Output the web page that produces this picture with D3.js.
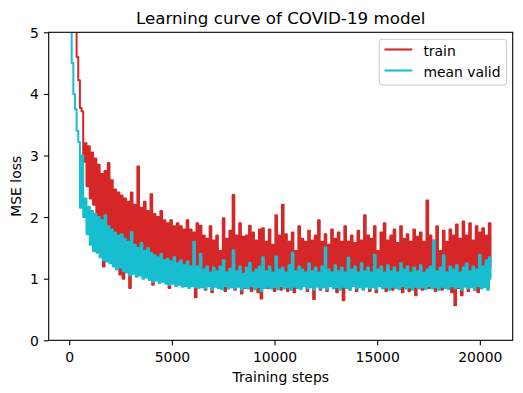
<!DOCTYPE html>
<html>
<head>
<meta charset="utf-8">
<script src="https://cdn.jsdelivr.net/npm/d3@7"></script>
<style>
  body { margin: 0; background: #fff; }
  text { font-family: "DejaVu Sans", sans-serif; fill: #000; }
</style>
</head>
<body>
<div id="container"></div>
<script>
// training steps the losses were logged at
const steps = [
  0, 80, 160, 240, 320, 400, 480, 560, 640, 720,
  800, 880, 960, 1040, 1120, 1200, 1280, 1360, 1440, 1520,
  1600, 1680, 1760, 1840, 1920, 2000, 2080, 2160, 2240, 2320,
  2400, 2480, 2560, 2640, 2720, 2800, 2880, 2960, 3040, 3120,
  3200, 3280, 3360, 3440, 3520, 3600, 3680, 3760, 3840, 3920,
  4000, 4080, 4160, 4240, 4320, 4400, 4480, 4560, 4640, 4720,
  4800, 4880, 4960, 5040, 5120, 5200, 5280, 5360, 5440, 5520,
  5600, 5680, 5760, 5840, 5920, 6000, 6080, 6160, 6240, 6320,
  6400, 6480, 6560, 6640, 6720, 6800, 6880, 6960, 7040, 7120,
  7200, 7280, 7360, 7440, 7520, 7600, 7680, 7760, 7840, 7920,
  8000, 8080, 8160, 8240, 8320, 8400, 8480, 8560, 8640, 8720,
  8800, 8880, 8960, 9040, 9120, 9200, 9280, 9360, 9440, 9520,
  9600, 9680, 9760, 9840, 9920, 10000, 10080, 10160, 10240, 10320,
  10400, 10480, 10560, 10640, 10720, 10800, 10880, 10960, 11040, 11120,
  11200, 11280, 11360, 11440, 11520, 11600, 11680, 11760, 11840, 11920,
  12000, 12080, 12160, 12240, 12320, 12400, 12480, 12560, 12640, 12720,
  12800, 12880, 12960, 13040, 13120, 13200, 13280, 13360, 13440, 13520,
  13600, 13680, 13760, 13840, 13920, 14000, 14080, 14160, 14240, 14320,
  14400, 14480, 14560, 14640, 14720, 14800, 14880, 14960, 15040, 15120,
  15200, 15280, 15360, 15440, 15520, 15600, 15680, 15760, 15840, 15920,
  16000, 16080, 16160, 16240, 16320, 16400, 16480, 16560, 16640, 16720,
  16800, 16880, 16960, 17040, 17120, 17200, 17280, 17360, 17440, 17520,
  17600, 17680, 17760, 17840, 17920, 18000, 18080, 18160, 18240, 18320,
  18400, 18480, 18560, 18640, 18720, 18800, 18880, 18960, 19040, 19120,
  19200, 19280, 19360, 19440, 19520, 19600, 19680, 19760, 19840, 19920,
  20000, 20080, 20160, 20240, 20320, 20400, 20480, 20560
]

const trainLoss = [
  7.2, 6.4, 5.9, 5.5, 5.15, 4.6, 4.22, 3.77, 3.72, 2.9,
  3.2, 2.5, 3.15, 2.3, 3.05, 2.2, 2.95, 1.9, 2.85, 1.85,
  2.7, 1.2, 2.75, 1.8, 2.88, 1.65, 2.6, 1.7, 2.45, 1.55,
  2.4, 1.07, 2.35, 1.0, 2.3, 1.4, 2.25, 0.85, 2.4, 1.35,
  2.2, 1.3, 2.82, 1.25, 2.15, 1.3, 2.25, 1.2, 2.1, 1.25,
  2.37, 0.9, 2.05, 1.2, 2.0, 1.15, 2.1, 1.15, 1.95, 1.1,
  1.9, 0.85, 1.95, 1.1, 1.85, 1.15, 1.9, 1.05, 1.85, 1.1,
  1.8, 1.05, 1.95, 1.0, 1.8, 1.1, 1.75, 0.7, 1.9, 1.0,
  1.86, 0.95, 1.7, 0.82, 1.65, 1.0, 1.85, 0.78, 1.62, 0.9,
  1.7, 0.85, 1.45, 0.95, 1.98, 0.8, 1.65, 0.88, 1.78, 0.92,
  2.36, 0.82, 1.7, 0.9, 1.9, 0.76, 1.68, 0.85, 1.7, 0.95,
  1.86, 0.8, 1.75, 0.92, 1.62, 0.78, 1.8, 0.68, 1.82, 0.88,
  1.6, 0.85, 1.8, 0.9, 1.55, 0.8, 2.03, 0.95, 1.7, 0.82,
  2.2, 0.88, 1.72, 0.8, 1.6, 0.92, 1.75, 0.78, 1.45, 0.9,
  1.85, 0.85, 1.65, 0.95, 1.6, 0.8, 1.78, 0.88, 1.62, 0.67,
  1.7, 0.9, 1.95, 0.82, 1.6, 0.88, 1.72, 0.8, 1.55, 0.92,
  1.8, 0.85, 1.65, 0.78, 1.75, 0.9, 1.6, 0.65, 1.85, 0.88,
  1.6, 0.82, 1.7, 0.9, 1.58, 0.8, 1.78, 0.92, 1.62, 0.85,
  2.03, 0.88, 1.7, 0.8, 1.65, 0.9, 1.85, 0.78, 1.45, 0.92,
  1.75, 0.85, 1.9, 0.8, 1.62, 0.88, 1.7, 0.82, 1.8, 0.9,
  1.58, 0.85, 1.85, 0.78, 1.65, 0.9, 1.72, 0.8, 1.6, 0.88,
  1.8, 0.73, 1.68, 0.9, 1.75, 0.82, 1.6, 0.88, 2.27, 0.85,
  1.7, 0.9, 1.62, 0.8, 1.85, 0.88, 1.45, 0.82, 1.78, 0.9,
  1.6, 0.85, 1.8, 0.78, 1.7, 0.57, 1.88, 0.85, 1.65, 0.73,
  1.93, 0.88, 1.7, 0.8, 1.9, 0.9, 1.62, 0.82, 1.85, 0.78,
  1.75, 0.88, 1.82, 0.9, 1.7, 0.85, 1.9, 1.2
]

const validLoss = [
  6.0, 5.3, 4.5, 4.0, 3.75, 3.4, 3.22, 2.15, 3.0, 2.0,
  2.3, 1.72, 2.17, 1.55, 2.1, 1.45, 2.05, 1.42, 2.0, 1.35,
  1.95, 1.3, 2.03, 1.28, 1.85, 1.25, 1.8, 1.2, 1.75, 1.15,
  1.7, 1.18, 1.72, 1.12, 1.65, 1.1, 1.6, 1.05, 1.76, 1.08,
  1.55, 1.03, 1.5, 1.05, 1.58, 1.0, 1.45, 1.02, 1.5, 0.98,
  1.42, 0.95, 1.38, 0.97, 1.35, 0.93, 1.4, 0.95, 1.3, 0.92,
  1.32, 0.9, 1.28, 0.92, 1.35, 0.88, 1.25, 0.9, 1.3, 0.87,
  1.22, 0.88, 1.28, 0.85, 1.2, 0.88, 1.6, 0.86, 1.2, 0.85,
  1.4, 0.86, 1.15, 0.84, 1.2, 0.88, 1.1, 0.82, 1.18, 0.87,
  1.12, 0.85, 1.2, 0.83, 1.3, 0.88, 1.1, 0.84, 1.16, 0.86,
  1.46, 0.84, 1.12, 0.87, 1.2, 0.82, 1.08, 0.86, 1.18, 0.84,
  1.26, 0.88, 1.1, 0.83, 1.15, 0.86, 1.2, 0.8, 1.35, 0.85,
  1.12, 0.87, 1.2, 0.84, 1.1, 0.86, 1.36, 0.83, 1.15, 0.88,
  1.18, 0.84, 1.1, 0.86, 1.22, 0.82, 1.42, 0.87, 1.12, 0.85,
  1.2, 0.83, 1.15, 0.88, 1.1, 0.84, 1.25, 0.86, 1.12, 0.82,
  1.18, 0.87, 1.1, 0.84, 1.2, 0.86, 1.51, 0.83, 1.15, 0.88,
  1.1, 0.84, 1.22, 0.86, 1.12, 0.82, 1.18, 0.87, 1.1, 0.85,
  1.34, 0.83, 1.15, 0.88, 1.2, 0.84, 1.1, 0.86, 1.25, 0.82,
  1.12, 0.87, 1.18, 0.84, 1.1, 0.86, 1.39, 0.83, 1.15, 0.88,
  1.2, 0.84, 1.1, 0.86, 1.22, 0.82, 1.12, 0.87, 1.18, 0.85,
  1.1, 0.83, 1.25, 0.88, 1.15, 0.84, 1.2, 0.86, 1.1, 0.82,
  1.18, 0.87, 1.12, 0.84, 1.22, 0.86, 1.1, 0.83, 1.15, 0.88,
  1.2, 0.84, 1.61, 0.86, 1.12, 0.82, 1.18, 0.87, 1.38, 0.85,
  1.1, 0.83, 1.2, 0.88, 1.15, 0.84, 1.22, 0.86, 1.1, 0.82,
  1.18, 0.87, 1.25, 0.84, 1.12, 0.86, 1.2, 0.83, 1.15, 0.88,
  1.39, 0.84, 1.2, 0.86, 1.3, 0.82, 1.35, 1.0
]

const xTicks = [0, 5000, 10000, 15000, 20000]
const yTicks = [0, 1, 2, 3, 4, 5]
const seriesNames = ["train", "mean valid"]
const seriesColors = ["#d62728", "#17becf"]

const w = 523
const h = 393
const plotLeft = 48.7
const plotTop = 32.3
const plotW = 464
const plotH = 308
const tickLen = 4.86

const svg = d3.select("#container")
  .append("svg")
  .attr("width", w)
  .attr("height", h)

const x = d3.scaleLinear().domain([-1000, 21600]).range([plotLeft, plotLeft + plotW])
const y = d3.scaleLinear().domain([0, 5]).range([plotTop + plotH, plotTop])

svg.append("clipPath")
  .attr("id", "plot-clip")
  .append("rect")
  .attr("x", plotLeft)
  .attr("y", plotTop)
  .attr("width", plotW)
  .attr("height", plotH)

// step curve so the noisy band fills in like the dense original log
const line = d3.line()
  .x((d) => x(d[0]))
  .y((d) => y(d[1]))
  .curve(d3.curveStep)

const series = [trainLoss, validLoss].map((vals) => steps.map((s, i) => [s, vals[i]]))

svg.append("g")
  .attr("clip-path", "url(#plot-clip)")
  .selectAll("path")
  .data(series)
  .enter()
  .append("path")
  .attr("d", line)
  .attr("fill", "none")
  .attr("stroke", (d, i) => seriesColors[i])
  .attr("stroke-width", 2)
  .attr("stroke-linejoin", "round")

// axes
const xAxis = svg.append("g")
  .attr("transform", `translate(0,${plotTop + plotH})`)
  .call(d3.axisBottom(x).tickValues(xTicks).tickFormat(d3.format("d")).tickSize(tickLen))
xAxis.select(".domain").remove()
xAxis.selectAll("line").attr("stroke-width", 1.1)
xAxis.selectAll("text")
  .attr("y", 21.3)
  .attr("dy", null)
  .attr("font-size", 13.9)
  .attr("font-family", "DejaVu Sans")

const yAxis = svg.append("g")
  .attr("transform", `translate(${plotLeft},0)`)
  .call(d3.axisLeft(y).tickValues(yTicks).tickFormat(d3.format("d")).tickSize(tickLen).tickPadding(4.9))
yAxis.select(".domain").remove()
yAxis.selectAll("line").attr("stroke-width", 1.1)
yAxis.selectAll("text")
  .attr("dy", "0.36em")
  .attr("font-size", 13.9)
  .attr("font-family", "DejaVu Sans")

svg.append("rect")
  .attr("x", plotLeft)
  .attr("y", plotTop)
  .attr("width", plotW)
  .attr("height", plotH)
  .attr("fill", "none")
  .attr("stroke", "#000")
  .attr("stroke-width", 1.1)

// titles
svg.append("text")
  .attr("x", plotLeft + plotW / 2)
  .attr("y", 24)
  .attr("text-anchor", "middle")
  .attr("font-size", 16.7)
  .text("Learning curve of COVID-19 model")

svg.append("text")
  .attr("x", plotLeft + plotW / 2)
  .attr("y", 381.7)
  .attr("text-anchor", "middle")
  .attr("font-size", 13.9)
  .text("Training steps")

svg.append("text")
  .attr("transform", `translate(21.3,${plotTop + plotH / 2}) rotate(-90)`)
  .attr("text-anchor", "middle")
  .attr("font-size", 13.9)
  .text("MSE loss")

// legend
const legend = svg.append("g")
legend.append("rect")
  .attr("x", 379.3)
  .attr("y", 39.3)
  .attr("width", 127.3)
  .attr("height", 45.7)
  .attr("rx", 2.8)
  .attr("fill", "#fff")
  .attr("fill-opacity", 0.8)
  .attr("stroke", "#cccccc")
  .attr("stroke-width", 1)

seriesNames.forEach((name, i) => {
  const ly = 49.5 + i * 21
  legend.append("line")
    .attr("x1", 384.5)
    .attr("x2", 412.3)
    .attr("y1", ly)
    .attr("y2", ly)
    .attr("stroke", seriesColors[i])
    .attr("stroke-width", 2.08)
  legend.append("text")
    .attr("x", 423.4)
    .attr("y", ly + 6)
    .attr("font-size", 13.9)
    .text(name)
})
</script>
</body>
</html>
